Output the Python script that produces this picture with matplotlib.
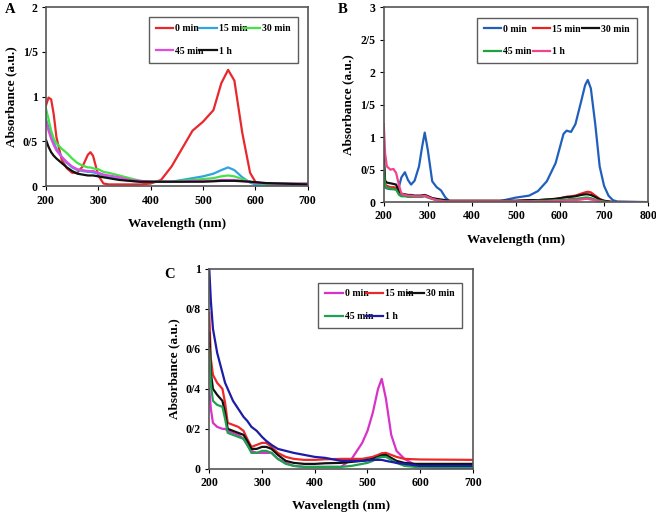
import matplotlib
matplotlib.use('Agg')
import matplotlib.pyplot as plt

plt.rcParams['font.family'] = ['Liberation Serif', 'DejaVu Serif']
plt.rcParams['font.weight'] = 'bold'

labels = ['0 min', '15 min', '30 min', '45 min', '1 h']

# ---- panel A ----
a_x = [200, 205, 210, 215, 220, 230, 240, 250, 260, 270, 280, 285, 290, 300, 310, 320, 340, 360, 380, 400,
       420, 440, 460, 480, 500, 520, 535, 548, 560, 575, 590, 600, 620, 650, 700]
a_0 = [0.90, 0.99, 0.97, 0.80, 0.55, 0.30, 0.20, 0.15, 0.15, 0.22, 0.35, 0.38, 0.34, 0.12, 0.03, 0.02, 0.02, 0.02, 0.02, 0.03,
       0.07, 0.22, 0.42, 0.62, 0.72, 0.85, 1.15, 1.30, 1.18, 0.60, 0.15, 0.05, 0.02, 0.02, 0.02]
a_15 = [0.75, 0.66, 0.58, 0.49, 0.42, 0.33, 0.26, 0.21, 0.18, 0.17, 0.16, 0.16, 0.155, 0.14, 0.12, 0.10, 0.08, 0.06, 0.05, 0.05,
        0.05, 0.05, 0.07, 0.09, 0.11, 0.14, 0.18, 0.21, 0.18, 0.10, 0.04, 0.02, 0.02, 0.02, 0.02]
a_30 = [0.87, 0.75, 0.62, 0.53, 0.48, 0.42, 0.37, 0.31, 0.26, 0.23, 0.21, 0.21, 0.20, 0.19, 0.16, 0.15, 0.12, 0.09, 0.06, 0.05,
        0.05, 0.05, 0.06, 0.07, 0.08, 0.09, 0.11, 0.12, 0.11, 0.08, 0.05, 0.04, 0.03, 0.03, 0.03]
a_45 = [0.73, 0.62, 0.53, 0.46, 0.40, 0.33, 0.27, 0.22, 0.19, 0.18, 0.17, 0.17, 0.17, 0.15, 0.13, 0.12, 0.10, 0.07, 0.06, 0.05,
        0.05, 0.05, 0.05, 0.06, 0.06, 0.06, 0.07, 0.07, 0.07, 0.06, 0.05, 0.04, 0.035, 0.03, 0.03]
a_1h = [0.52, 0.44, 0.38, 0.34, 0.31, 0.26, 0.21, 0.17, 0.14, 0.13, 0.12, 0.12, 0.12, 0.11, 0.10, 0.09, 0.07, 0.06, 0.05, 0.05,
        0.05, 0.05, 0.05, 0.05, 0.05, 0.055, 0.06, 0.06, 0.06, 0.055, 0.05, 0.045, 0.035, 0.03, 0.02]
a_yticks = [0, 0.5, 1, 1.5, 2]
a_ylabels = ['0', '0/5', '1', '1/5', '2']

# ---- panel B ----
b_x = [200, 203, 207, 215, 222, 228, 235, 240, 248, 255, 262, 270, 280, 287, 293, 300, 310, 320, 330, 340, 350,
       400, 460, 500, 530, 550, 570, 590, 600, 608, 615, 625, 635, 648, 657, 663, 670, 680, 690, 700, 710, 720, 730, 800]
b_0 = [0.26, 0.23, 0.21, 0.20, 0.20, 0.20, 0.25, 0.38, 0.46, 0.34, 0.27, 0.33, 0.55, 0.85, 1.07, 0.80, 0.32, 0.23, 0.18, 0.07, 0.01,
       0.01, 0.01, 0.07, 0.10, 0.17, 0.32, 0.60, 0.85, 1.05, 1.10, 1.08, 1.20, 1.55, 1.80, 1.88, 1.75, 1.20, 0.55, 0.25, 0.10, 0.03, 0.01, 0.0]
b_15 = [0.60, 0.27, 0.25, 0.23, 0.23, 0.22, 0.14, 0.12, 0.11, 0.10, 0.10, 0.09, 0.09, 0.10, 0.11, 0.09, 0.06, 0.04, 0.03, 0.02, 0.02,
        0.02, 0.02, 0.02, 0.03, 0.03, 0.04, 0.05, 0.06, 0.07, 0.08, 0.09, 0.10, 0.13, 0.15, 0.16, 0.15, 0.10, 0.05, 0.02, 0.01, 0.0, 0.0, 0.0]
b_30 = [0.75, 0.33, 0.30, 0.29, 0.28, 0.27, 0.16, 0.13, 0.12, 0.11, 0.11, 0.10, 0.10, 0.10, 0.11, 0.09, 0.06, 0.05, 0.04, 0.03, 0.02,
        0.02, 0.02, 0.02, 0.03, 0.03, 0.04, 0.05, 0.06, 0.07, 0.08, 0.08, 0.09, 0.11, 0.12, 0.12, 0.11, 0.08, 0.04, 0.02, 0.01, 0.0, 0.0, 0.0]
b_45 = [0.55, 0.24, 0.22, 0.21, 0.20, 0.19, 0.11, 0.09, 0.09, 0.08, 0.08, 0.08, 0.08, 0.08, 0.09, 0.07, 0.05, 0.03, 0.02, 0.01, 0.01,
        0.01, 0.01, 0.01, 0.01, 0.02, 0.02, 0.03, 0.03, 0.04, 0.04, 0.05, 0.05, 0.06, 0.07, 0.07, 0.06, 0.04, 0.02, 0.01, 0.0, 0.0, 0.0, 0.0]
b_1h = [1.20, 0.75, 0.55, 0.50, 0.51, 0.45, 0.25, 0.13, 0.11, 0.10, 0.10, 0.09, 0.09, 0.09, 0.10, 0.08, 0.05, 0.03, 0.02, 0.01, 0.01,
        0.01, 0.01, 0.01, 0.01, 0.01, 0.01, 0.02, 0.02, 0.02, 0.03, 0.03, 0.03, 0.04, 0.05, 0.05, 0.04, 0.03, 0.01, 0.0, 0.0, 0.0, 0.0, 0.0]
b_yticks = [0, 0.5, 1, 1.5, 2, 2.5, 3]
b_ylabels = ['0', '0/5', '1', '1/5', '2', '2/5', '3']

# ---- panel C ----
c_x = [200, 203, 207, 215, 225, 230, 235, 245, 255, 265, 272, 280, 290, 300, 308, 318, 330, 345, 360, 380, 400,
       420, 450, 470, 490, 500, 510, 520, 527, 535, 545, 555, 570, 590, 600, 650, 700]
c_0 = [0.40, 0.30, 0.23, 0.21, 0.20, 0.20, 0.19, 0.18, 0.17, 0.15, 0.12, 0.09, 0.08, 0.08, 0.08, 0.08, 0.05, 0.03, 0.015, 0.01, 0.01,
       0.01, 0.01, 0.05, 0.13, 0.19, 0.28, 0.40, 0.45, 0.35, 0.17, 0.09, 0.05, 0.02, 0.01, 0.005, 0.005]
c_15 = [0.78, 0.55, 0.47, 0.43, 0.40, 0.33, 0.23, 0.22, 0.21, 0.19, 0.15, 0.11, 0.12, 0.13, 0.13, 0.11, 0.08, 0.06, 0.05, 0.045, 0.045,
        0.048, 0.05, 0.05, 0.05, 0.055, 0.06, 0.07, 0.078, 0.08, 0.07, 0.06, 0.05, 0.048, 0.047, 0.046, 0.045]
c_30 = [0.68, 0.48, 0.40, 0.37, 0.34, 0.28, 0.20, 0.19, 0.18, 0.17, 0.14, 0.10, 0.10, 0.11, 0.11, 0.10, 0.07, 0.04, 0.03, 0.025, 0.025,
        0.028, 0.03, 0.035, 0.04, 0.045, 0.05, 0.06, 0.068, 0.07, 0.055, 0.04, 0.03, 0.025, 0.025, 0.025, 0.025]
c_45 = [0.60, 0.42, 0.34, 0.32, 0.31, 0.25, 0.18, 0.17, 0.16, 0.15, 0.12, 0.08, 0.08, 0.09, 0.09, 0.08, 0.05, 0.025, 0.015, 0.01, 0.01,
        0.01, 0.01, 0.015, 0.025, 0.03, 0.04, 0.055, 0.06, 0.06, 0.045, 0.03, 0.015, 0.01, 0.008, 0.005, 0.005]
c_1h = [1.00, 0.84, 0.70, 0.58, 0.48, 0.43, 0.40, 0.34, 0.30, 0.26, 0.24, 0.21, 0.19, 0.16, 0.14, 0.12, 0.10, 0.09, 0.08, 0.07, 0.06,
        0.055, 0.04, 0.04, 0.04, 0.042, 0.045, 0.045, 0.045, 0.04, 0.035, 0.03, 0.025, 0.018, 0.015, 0.015, 0.015]
c_yticks = [0, 0.2, 0.4, 0.6, 0.8, 1]
c_ylabels = ['0', '0/2', '0/4', '0/6', '0/8', '1']

a_colors = ['#e8282c', '#30a4dc', '#44e444', '#e04ce0', '#111111']
b_colors = ['#2060bc', '#e82222', '#111111', '#20a040', '#f0448c']
c_colors = ['#d832c8', '#ea2a2a', '#111111', '#20a050', '#1c1ca8']

# row-wise legend order for a 3-column legend (matplotlib fills by column)
leg_order = [0, 3, 1, 4, 2]


def draw_panel(ax, x, series, colors, xmax, ymax, yticks, ylabels, tag, tagpos, legbox):
    for y, col, lab in zip(series, colors, labels):
        ax.plot(x, y, color=col, lw=1.6, label=lab)
    ax.set_xlim(200, xmax)
    ax.set_ylim(0, ymax)
    ax.set_xticks(range(200, xmax + 1, 100))
    ax.set_yticks(yticks)
    ax.set_yticklabels(ylabels)
    ax.tick_params(labelsize=8.5, length=3, direction='out', pad=3)
    for t in ax.get_xticklabels() + ax.get_yticklabels():
        t.set_fontweight('bold')
    ax.set_xlabel('Wavelength (nm)', fontsize=9.5, fontweight='bold', labelpad=8)
    ax.set_ylabel('Absorbance (a.u.)', fontsize=9.5, fontweight='bold', labelpad=4)
    for s in ax.spines.values():
        s.set_color('#555555')
        s.set_linewidth(1.2)
    ax.text(tagpos[0], tagpos[1], tag, transform=ax.figure.transFigure, fontsize=10.5, fontweight='bold',
            va='top', ha='left')
    h, l = ax.get_legend_handles_labels()
    leg = ax.legend([h[i] for i in leg_order], [l[i] for i in leg_order], ncol=3, loc='upper left',
                    bbox_to_anchor=legbox, mode='expand',
                    handlelength=1.8, handletextpad=0.2, columnspacing=0.8, labelspacing=1.4,
                    fancybox=False, edgecolor='#333333', borderpad=0.7, prop={'weight': 'bold', 'size': 7})
    leg.get_frame().set_linewidth(1.0)


fig = plt.figure(figsize=(6.56, 5.13), dpi=100)
ax_a = fig.add_axes([0.070, 0.637, 0.399, 0.349])
ax_b = fig.add_axes([0.585, 0.606, 0.403, 0.380])
ax_c = fig.add_axes([0.319, 0.086, 0.402, 0.390])

draw_panel(ax_a, a_x, [a_0, a_15, a_30, a_45, a_1h], a_colors, 700, 2, a_yticks, a_ylabels,
           'A', (0.008, 0.995), (0.375, 0.97, 0.605, 0.0))
draw_panel(ax_b, b_x, [b_0, b_15, b_30, b_45, b_1h], b_colors, 800, 3, b_yticks, b_ylabels,
           'B', (0.515, 0.995), (0.335, 0.97, 0.64, 0.0))
draw_panel(ax_c, c_x, [c_0, c_15, c_30, c_45, c_1h], c_colors, 700, 1, c_yticks, c_ylabels,
           'C', (0.250, 0.478), (0.395, 0.955, 0.58, 0.0))

fig.savefig('out.png', dpi=100)
